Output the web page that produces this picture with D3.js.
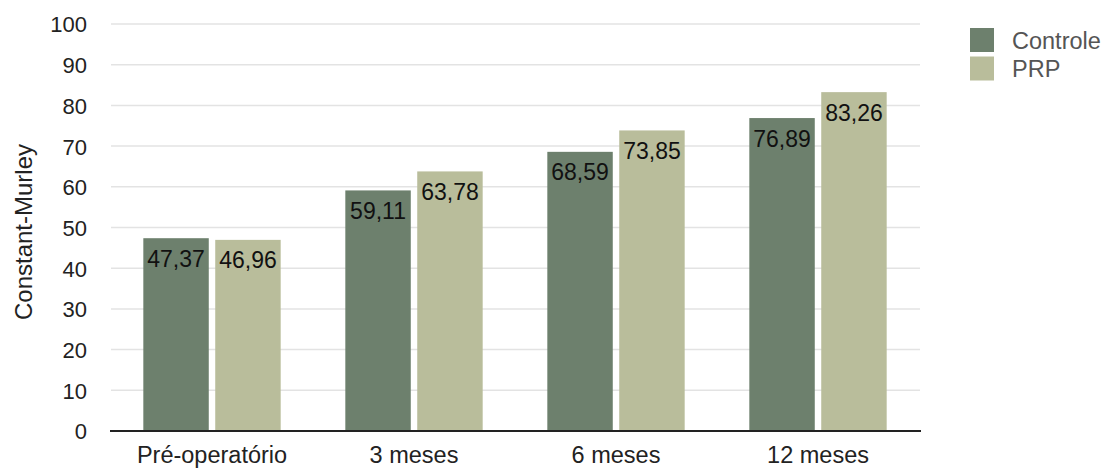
<!DOCTYPE html>
<html>
<head>
<meta charset="utf-8">
<script src="https://cdnjs.cloudflare.com/ajax/libs/d3/7.8.5/d3.min.js"></script>
<style>
  body { margin: 0; background: #fff; }
  text { font-family: Arial, "Liberation Sans", sans-serif; }
</style>
</head>
<body>
<div id="chart"></div>
<script>
var categories = ['Pré-operatório', '3 meses', '6 meses', '12 meses'];
var seriesNames = ['Controle', 'PRP'];
var controle = [47.37, 59.11, 68.59, 76.89];
var prp = [46.96, 63.78, 73.85, 83.26];
var yTicks = [0, 10, 20, 30, 40, 50, 60, 70, 80, 90, 100];
var colors = ['#6d806d', '#b9bd9b'];

var width = 1107, height = 468;
var svg = d3.select('#chart').append('svg')
  .attr('width', width)
  .attr('height', height);

var x0 = d3.scaleBand()
  .domain(categories)
  .range([111, 919])
  .paddingInner(0.32)
  .paddingOuter(0.16);

var x1 = d3.scaleBand()
  .domain(seriesNames)
  .range([0, x0.bandwidth()])
  .paddingInner(0.09);

var y = d3.scaleLinear()
  .domain([0, 100])
  .range([431, 24]);

// grid lines
svg.append('g')
  .selectAll('line')
  .data(yTicks.slice(1))
  .enter()
  .append('line')
  .attr('x1', 111)
  .attr('x2', 920)
  .attr('y1', function (d) { return y(d); })
  .attr('y2', function (d) { return y(d); })
  .attr('stroke', '#e3e3e3')
  .attr('stroke-width', 1.5);

// y axis labels
var yAxis = d3.axisLeft(y).tickValues(yTicks).tickSize(0).tickPadding(0);
svg.append('g')
  .attr('transform', 'translate(87,0)')
  .call(yAxis)
  .call(function (g) {
    g.select('.domain').remove();
    g.selectAll('text')
      .attr('font-size', 22)
      .attr('fill', '#222')
      .attr('dy', '0.36em');
  });

var data = categories.map(function (c, i) {
  return { cat: c, values: [
    { name: seriesNames[0], v: controle[i], color: colors[0] },
    { name: seriesNames[1], v: prp[i], color: colors[1] }
  ]};
});

var groups = svg.append('g')
  .selectAll('g')
  .data(data)
  .enter()
  .append('g')
  .attr('transform', function (d) { return 'translate(' + x0(d.cat) + ',0)'; });

groups.selectAll('rect')
  .data(function (d) { return d.values; })
  .enter()
  .append('rect')
  .attr('x', function (d) { return x1(d.name); })
  .attr('y', function (d) { return y(d.v); })
  .attr('width', x1.bandwidth())
  .attr('height', function (d) { return y(0) - y(d.v); })
  .attr('fill', function (d) { return d.color; });

groups.selectAll('.val')
  .data(function (d) { return d.values; })
  .enter()
  .append('text')
  .attr('class', 'val')
  .attr('x', function (d) { return x1(d.name) + x1.bandwidth() / 2; })
  .attr('y', function (d) { return y(d.v) + 28.5; })
  .attr('text-anchor', 'middle')
  .attr('font-size', 23)
  .attr('fill', '#111')
  .text(function (d) { return d3.format('.2f')(d.v).replace('.', ','); });

// baseline
svg.append('line')
  .attr('x1', 110)
  .attr('x2', 921)
  .attr('y1', y(0))
  .attr('y2', y(0))
  .attr('stroke', '#222')
  .attr('stroke-width', 2);

// x axis labels
var xAxis = d3.axisBottom(x0).tickSize(0).tickPadding(0);
svg.append('g')
  .attr('transform', 'translate(0,' + y(0) + ')')
  .call(xAxis)
  .call(function (g) {
    g.select('.domain').remove();
    g.selectAll('text')
      .attr('font-size', 23.5)
      .attr('fill', '#222')
      .attr('dy', null)
      .attr('y', 32);
  });

// y axis title
svg.append('text')
  .attr('transform', 'translate(32,232) rotate(-90)')
  .attr('text-anchor', 'middle')
  .attr('font-size', 24)
  .attr('fill', '#222')
  .text('Constant-Murley');

// legend
var legend = svg.append('g')
  .selectAll('g')
  .data(seriesNames)
  .enter()
  .append('g')
  .attr('transform', function (d, i) { return 'translate(970,' + (28 + i * 28.5) + ')'; });

legend.append('rect')
  .attr('width', 24)
  .attr('height', 24)
  .attr('fill', function (d, i) { return colors[i]; });

legend.append('text')
  .attr('x', 42)
  .attr('y', 20.5)
  .attr('font-size', 23.5)
  .attr('fill', '#555')
  .text(function (d) { return d; });
</script>
</body>
</html>
